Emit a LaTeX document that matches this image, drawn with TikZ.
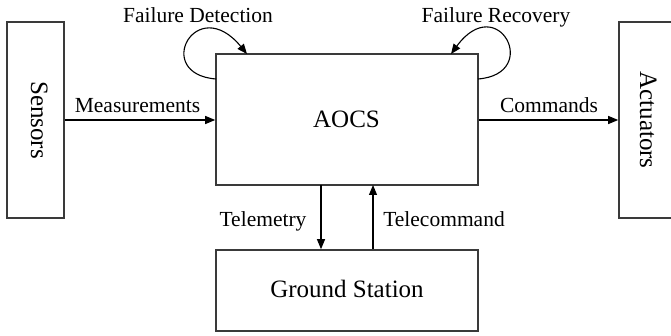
\documentclass[tikz,border=0pt]{standalone}
\usepackage{fontspec}
\setmainfont{Liberation Serif}
\usetikzlibrary{arrows.meta}
\definecolor{boxgray}{HTML}{3A3A3A}
\tikzset{
  blk/.style={draw=boxgray, line width=1.6pt, rectangle, inner sep=0pt},
  boxtxt/.style={font=\fontsize{25}{30}\selectfont, inner sep=0pt},
  lbl/.style={font=\fontsize{21.5}{26}\selectfont, inner sep=0pt, anchor=base},
  arr/.style={draw=black, line width=1.1pt, -{Triangle[length=10pt,width=8pt]}},
}
\begin{document}
\begin{tikzpicture}[x=1pt,y=-1pt]
\useasboundingbox (0,0) rectangle (671,336);
% boxes
\node[blk, minimum width=57pt, minimum height=196pt] (sens) at (35.5,120) {};
\node[blk, minimum width=54pt, minimum height=196pt] (act) at (646,120) {};
\node[blk, minimum width=262pt, minimum height=131pt] (aocs) at (347,119.5) {};
\node[blk, minimum width=262pt, minimum height=81pt] (gs) at (347,290.5) {};
% box texts
\node[boxtxt, rotate=-90, anchor=base] (senst) at (31,120) {Sensors};
\node[boxtxt, rotate=-90, anchor=base] (actt) at (640,120) {Actuators};
\node[boxtxt, anchor=base] (aocst) at (346.5,128) {AOCS};
\node[boxtxt, anchor=base] (gst) at (347,298) {Ground Station};
% coordinates
\coordinate (tmA) at (321,185);
\coordinate (tcA) at (373,185);
\coordinate (fdS) at (216,79);
\coordinate (fdE) at (247,54);
\coordinate (frS) at (478,79);
\coordinate (frE) at (451,54);
% arrows
\draw[arr] (sens.east) -- (sens.east -| aocs.west);
\draw[arr] (aocs.east |- act.west) -- (act.west);
\draw[arr] (tmA) -- (tmA |- gs.north);
\draw[arr] (tcA |- gs.north) -- (tcA);
\draw[arr] (fdS) .. controls (152,74) and (196,-8) .. (fdE);
\draw[arr] (frS) .. controls (542,74) and (498,-10) .. (frE);
% labels
\node[lbl] (meas) at (137.5,113) {Measurements};
\node[lbl] (cmd) at (549,113) {Commands};
\node[lbl] (tm) at (263,227) {Telemetry};
\node[lbl] (tc) at (444,227) {Telecommand};
\node[lbl] (fd) at (198,23) {Failure Detection};
\node[lbl] (fr) at (496,23) {Failure Recovery};
\end{tikzpicture}
\end{document}
